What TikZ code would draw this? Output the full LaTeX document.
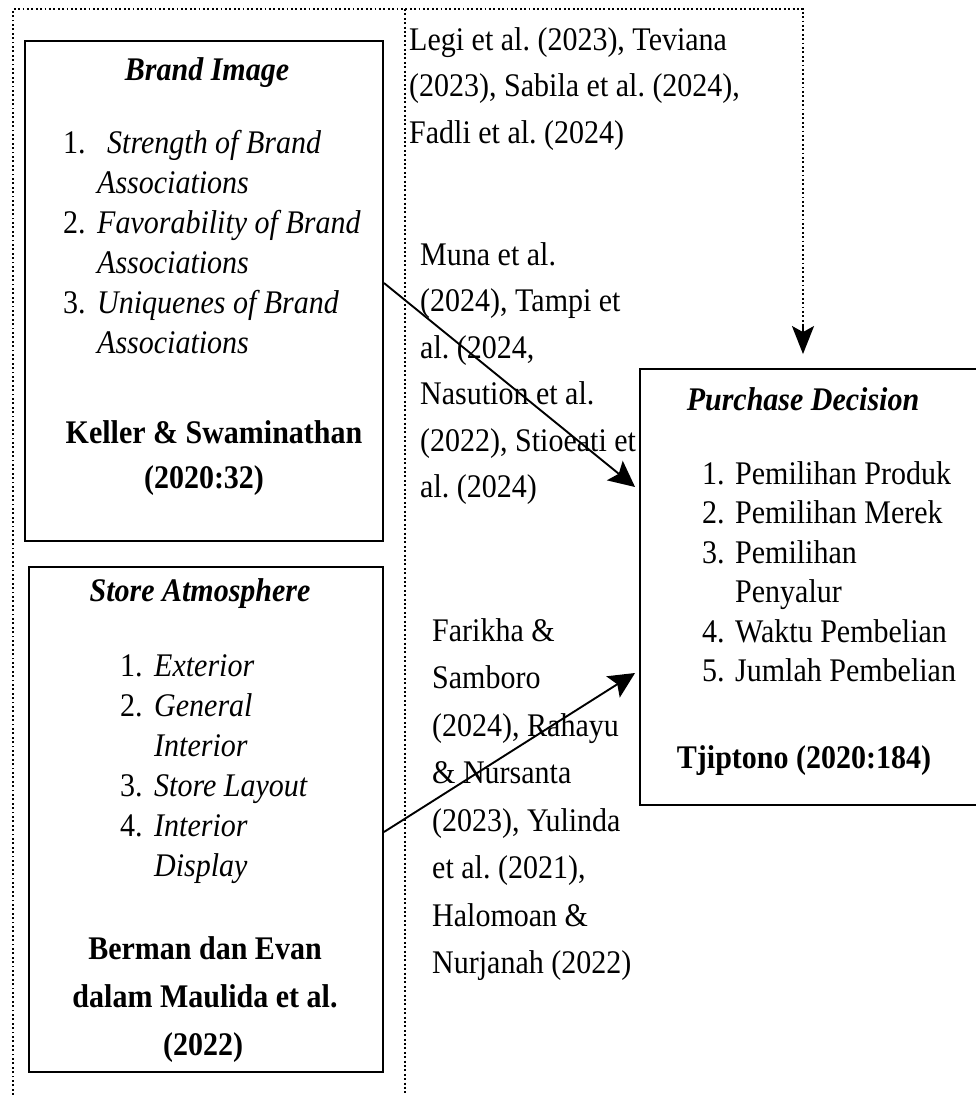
\documentclass[tikz,border=0pt]{standalone}
\usepackage{fontspec}
\setmainfont{Liberation Serif}
\usetikzlibrary{arrows.meta,calc}
\frenchspacing
\newcommand{\vst}[1]{\scalebox{1}[1.1]{#1}}
\begin{document}
\begin{tikzpicture}[x=1pt,y=-1pt,
  box/.style={draw, line width=1.9pt, inner sep=0pt},
  ln/.style={anchor=base west, inner sep=0pt, font=\fontsize{30}{36}\selectfont},
  lc/.style={anchor=base, inner sep=0pt, font=\fontsize{30}{36}\selectfont},
  dotline/.style={line width=2pt, dash pattern=on 1.9pt off 2.5pt, line cap=butt},
  arr/.style={line width=1.9pt, -{Stealth[length=26pt,width=25pt,inset=5pt]}}]
\useasboundingbox (0,0) rectangle (976,1095);
\clip (0,0) rectangle (976,1095);

% dotted frame
\coordinate (dtl) at (13,9);
\coordinate (dbl) at (13,1095);
\coordinate (dx) at (803,9);
\coordinate (mtop) at (405,9);
\coordinate (mbot) at (405,1095);
\draw[dotline] (mtop) -- (mbot);

% boxes
\node[box, minimum width=358pt, minimum height=500pt] (brand) at (204,291) {};
\node[box, minimum width=354pt, minimum height=505pt] (store) at (206,819.5) {};
\node[box, minimum width=350pt, minimum height=436pt] (pd) at (815,587) {};

\coordinate (dtip) at ($(dx |- pd.north)+(0,-14)$);
\coordinate (dstop) at ($(dtip)+(0,-27)$);
\draw[dotline] (dbl) -- (dtl) -- (dx) -- (dstop);
\draw[line width=2pt, -{Stealth[length=28pt,width=22pt,inset=6pt]}]
  ($(dtip)+(0,-30)$) -- (dtip);

% arrows
\draw[arr] ($(brand.east)+(0,-8)$) -- ($(pd.west)+(-4,-100)$);
\draw[arr] ($(store.east)+(0,12.5)$) -- ($(pd.west)+(-4,86)$);

% Brand Image
\node[lc] (bt) at (207,80) {\vst{\textbf{\textit{Brand Image}}}};
\node[ln] (b1n) at (63,153) {\vst{1.}};
\node[ln] (b1) at (107,153) {\vst{\textit{Strength of Brand}}};
\node[ln] (b1b) at (97,193) {\vst{\textit{Associations}}};
\node[ln] (b2n) at (63,233) {\vst{2.}};
\node[ln] (b2) at (97,233) {\vst{\textit{Favorability of Brand}}};
\node[ln] (b2b) at (97,273) {\vst{\textit{Associations}}};
\node[ln] (b3n) at (63,313) {\vst{3.}};
\node[ln] (b3) at (97,313) {\vst{\textit{Uniquenes of Brand}}};
\node[ln] (b3b) at (97,353) {\vst{\textit{Associations}}};
\node[lc] (bk1) at (214,443) {\vst{\textbf{Keller \& Swaminathan}}};
\node[lc] (bk2) at (204,488) {\vst{\textbf{(2020:32)}}};

% Store Atmosphere
\node[lc] (st) at (200,601) {\vst{\textbf{\textit{Store Atmosphere}}}};
\node[ln] (s1n) at (120,676) {\vst{1.}};
\node[ln] (s1) at (154,676) {\vst{\textit{Exterior}}};
\node[ln] (s2n) at (120,716) {\vst{2.}};
\node[ln] (s2) at (154,716) {\vst{\textit{General}}};
\node[ln] (s2b) at (154,756) {\vst{\textit{Interior}}};
\node[ln] (s3n) at (120,796) {\vst{3.}};
\node[ln] (s3) at (154,796) {\vst{\textit{Store Layout}}};
\node[ln] (s4n) at (120,836) {\vst{4.}};
\node[ln] (s4) at (154,836) {\vst{\textit{Interior}}};
\node[ln] (s4b) at (154,876) {\vst{\textit{Display}}};
\node[lc] (sk1) at (205,959) {\vst{\textbf{Berman dan Evan}}};
\node[lc] (sk2) at (205,1007) {\vst{\textbf{dalam Maulida et al.}}};
\node[lc] (sk3) at (203,1055) {\vst{\textbf{(2022)}}};

% Purchase Decision
\node[lc] (pt) at (803,410) {\vst{\textbf{\textit{Purchase Decision}}}};
\node[ln] (p1n) at (702,484) {\vst{1.}};
\node[ln] (p1) at (735,484) {\vst{Pemilihan Produk}};
\node[ln] (p2n) at (702,523.5) {\vst{2.}};
\node[ln] (p2) at (735,523.5) {\vst{Pemilihan Merek}};
\node[ln] (p3n) at (702,563) {\vst{3.}};
\node[ln] (p3) at (735,563) {\vst{Pemilihan}};
\node[ln] (p3b) at (735,602.5) {\vst{Penyalur}};
\node[ln] (p4n) at (702,642) {\vst{4.}};
\node[ln] (p4) at (735,642) {\vst{Waktu Pembelian}};
\node[ln] (p5n) at (702,681.5) {\vst{5.}};
\node[ln] (p5) at (735,681.5) {\vst{Jumlah Pembelian}};
\node[lc] (pk) at (804,768) {\vst{\textbf{Tjiptono (2020:184)}}};

% citations
\node[ln] (c1) at (409,50) {\vst{Legi et al. (2023), Teviana}};
\node[ln] (c2) at (409,96.5) {\vst{(2023), Sabila et al. (2024),}};
\node[ln] (c3) at (409,143) {\vst{Fadli et al. (2024)}};

\node[ln] (m1) at (420,265) {\vst{Muna et al.}};
\node[ln] (m2) at (420,311.5) {\vst{(2024), Tampi et}};
\node[ln] (m3) at (420,358) {\vst{al. (2024,}};
\node[ln] (m4) at (420,404.5) {\vst{Nasution et al.}};
\node[ln] (m5) at (420,451) {\vst{(2022), Stioeati et}};
\node[ln] (m6) at (420,497.5) {\vst{al. (2024)}};

\node[ln] (f1) at (432,641) {\vst{Farikha \&}};
\node[ln] (f2) at (432,688.5) {\vst{Samboro}};
\node[ln] (f3) at (432,736) {\vst{(2024), Rahayu}};
\node[ln] (f4) at (432,783.5) {\vst{\& Nursanta}};
\node[ln] (f5) at (432,831) {\vst{(2023), Yulinda}};
\node[ln] (f6) at (432,878.5) {\vst{et al. (2021),}};
\node[ln] (f7) at (432,926) {\vst{Halomoan \&}};
\node[ln] (f8) at (432,973.5) {\vst{Nurjanah (2022)}};
\end{tikzpicture}
\end{document}
